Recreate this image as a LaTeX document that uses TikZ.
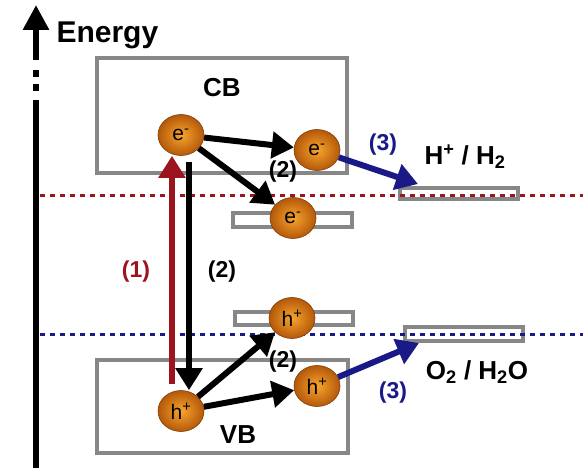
\documentclass[tikz,border=0pt]{standalone}
\usepackage{fontspec}
\setmainfont{Liberation Sans}
\usetikzlibrary{arrows.meta,shapes.geometric}
\definecolor{boxgray}{RGB}{135,135,135}
\definecolor{dred}{RGB}{155,20,30}
\definecolor{dblue}{RGB}{25,25,135}
\definecolor{ballin}{RGB}{248,165,45}
\definecolor{ballout}{RGB}{180,88,10}
\begin{document}
\begin{tikzpicture}[x=1pt,y=-1pt,
  band/.style={draw=boxgray,line width=4pt},
  trap/.style={draw=boxgray,line width=3.5pt,fill=white},
  ball/.style={ellipse,minimum width=46pt,minimum height=41pt,inner sep=0pt,
    shading=radial,inner color=ballin,outer color=ballout,draw=ballout!70!black,
    line width=0.6pt,font=\fontsize{21}{21}\selectfont},
  lbl/.style={font=\bfseries\fontsize{23}{23}\selectfont},
  big/.style={font=\bfseries\fontsize{26}{26}\selectfont},
  blkarr/.style={line width=6pt,-{Triangle[length=22pt,width=26pt]}},
  redarr/.style={draw=dred,line width=6.5pt,-{Triangle[length=22pt,width=26pt]}},
  bluarr/.style={draw=dblue,line width=6pt,-{Triangle[length=22pt,width=26pt]}},
  level/.style={line width=3pt,dash pattern=on 5pt off 5pt},
]
\useasboundingbox (0,0) rectangle (583,468);
% energy axis
\coordinate (ax0) at (36,468);
\coordinate (ax1) at (36,100);
\coordinate (ax2) at (36,60);
\coordinate (ax3) at (36,5);
\draw[line width=6pt] (ax0) -- (ax1);
\draw[line width=6pt] (36,91) -- (36,84);
\draw[line width=6pt] (36,77) -- (36,70);
\draw[line width=6pt,-{Triangle[length=25pt,width=25pt]}] (ax2) -- (ax3);
\node[font=\bfseries\fontsize{30}{30}\selectfont,anchor=base west] (en) at (53,43) {Energy};
% bands
\node[band,minimum width=250pt,minimum height=115pt,inner sep=0pt] (cb) at (222,115.5) {};
\node[big] (cbt) at (222,88) {CB};
\node[band,minimum width=251pt,minimum height=93pt,inner sep=0pt] (vb) at (222.5,406.5) {};
\node[big] (vbt) at (238,435) {VB};
% traps and redox levels
\node[trap,minimum width=119pt,minimum height=14pt,inner sep=0pt] (etrap) at (292.5,220) {};
\node[trap,minimum width=118pt,minimum height=13pt,inner sep=0pt] (htrap) at (294,318.5) {};
\node[trap,minimum width=118pt,minimum height=11pt,inner sep=0pt] (hbar) at (459,193.5) {};
\node[trap,minimum width=118pt,minimum height=14pt,inner sep=0pt] (obar) at (464,334) {};
\coordinate (rl0) at (40,195);
\coordinate (rl1) at (583,195);
\coordinate (bl0) at (40,334);
\coordinate (bl1) at (583,334);
\draw[level,draw=dred] (rl0) -- (rl1);
\draw[level,draw=dblue] (bl0) -- (bl1);
% carriers
\node[ball] (e1) at (181,135) {e\textsuperscript{-}};
\node[ball] (e2) at (317,150) {e\textsuperscript{-}};
\node[ball] (e3) at (293,218) {e\textsuperscript{-}};
\node[ball] (h1) at (181,411) {h\textsuperscript{+}};
\node[ball] (h2) at (292,318) {h\textsuperscript{+}};
\node[ball] (h3) at (317,386) {h\textsuperscript{+}};
% transitions
\draw[redarr] ([xshift=-9pt,yshift=6pt]h1.north) -- ([xshift=-9pt]e1.south);
\draw[blkarr] ([xshift=8pt,yshift=-6pt]e1.south) -- ([xshift=8pt]h1.north);
\draw[blkarr] (e1) -- (e2);
\draw[blkarr] (e1) -- (e3);
\draw[blkarr] (h1) -- (h2);
\draw[blkarr] (h1) -- (h3);
\coordinate (t1) at (418,184);
\coordinate (t2) at (419,343);
\draw[bluarr] (e2) -- (t1);
\draw[bluarr] (h3) -- (t2);
% labels
\node[lbl,text=dred] (l1) at (136,272) {(1)};
\node[lbl] (l2a) at (222,272) {(2)};
\node[lbl] (l2b) at (283,172) {(2)};
\node[lbl] (l2c) at (283,362) {(2)};
\node[lbl,text=dblue] (l3a) at (383,145) {(3)};
\node[lbl,text=dblue] (l3b) at (393,393) {(3)};
\node[big] (hh) at (465,157) {H\textsuperscript{+} / H\textsubscript{2}};
\node[big] (oh) at (477,372) {O\textsubscript{2} / H\textsubscript{2}O};
\end{tikzpicture}
\end{document}
